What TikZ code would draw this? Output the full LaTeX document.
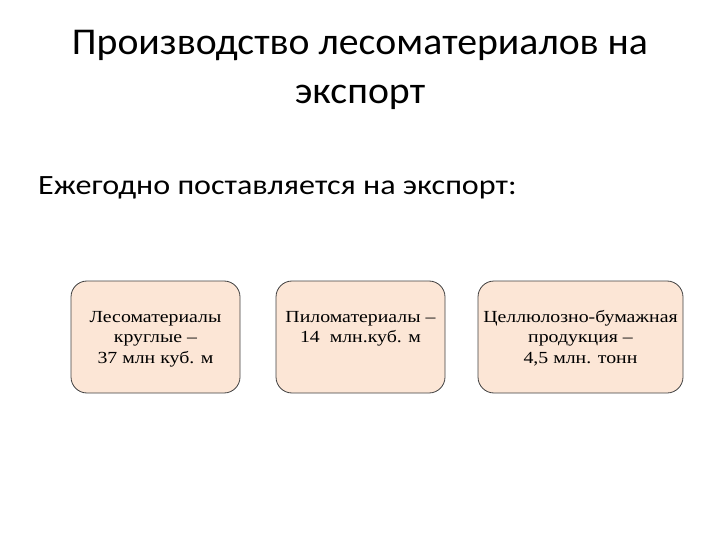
\documentclass[tikz,border=0pt]{standalone}
\usepackage{fontspec}
\setmainfont{Carlito}
\newfontfamily\titlefont[FakeStretch=1.05]{Carlito}
\newfontfamily\subfont[FakeStretch=1.15]{Carlito}
\newfontfamily\boxfont[FakeStretch=1.17]{Liberation Serif}
\definecolor{peach}{HTML}{FCE6D6}
\definecolor{edge}{HTML}{404040}
\newcommand{\tophold}{\rule{0pt}{12.5bp}}
\begin{document}
\begin{tikzpicture}[x=1bp,y=-1bp,
  catbox/.style={draw=edge,line width=0.8bp,fill=peach,rounded corners=16bp},
  boxtext/.style={font=\boxfont\fontsize{17}{20.5}\selectfont,align=center,anchor=north,inner sep=0pt}]
\useasboundingbox (0,0) rectangle (720,540);
\node[font=\titlefont\fontsize{38}{50}\selectfont,align=center,inner sep=0pt] (title) at (360,70) {Производство лесоматериалов на\\экспорт};
\node[font=\subfont\fontsize{28}{34}\selectfont,anchor=west,inner sep=0pt] (sub) at (38,188) {Ежегодно поставляется на экспорт:};
\draw[catbox] (71,281) rectangle (240,393);
\draw[catbox] (276,281) rectangle (445,393);
\draw[catbox] (478,281) rectangle (683,393);
\node[boxtext] (b1) at (155.5,309.5) {\tophold Лесоматериалы\\круглые –\\37 млн куб. м};
\node[boxtext] (b2) at (360.5,309.5) {\tophold Пиломатериалы –\\14\ \ млн.куб. м};
\node[boxtext] (b3) at (580.5,309.5) {\tophold Целлюлозно-бумажная\\продукция –\\4,5 млн. тонн};
\end{tikzpicture}
\end{document}
